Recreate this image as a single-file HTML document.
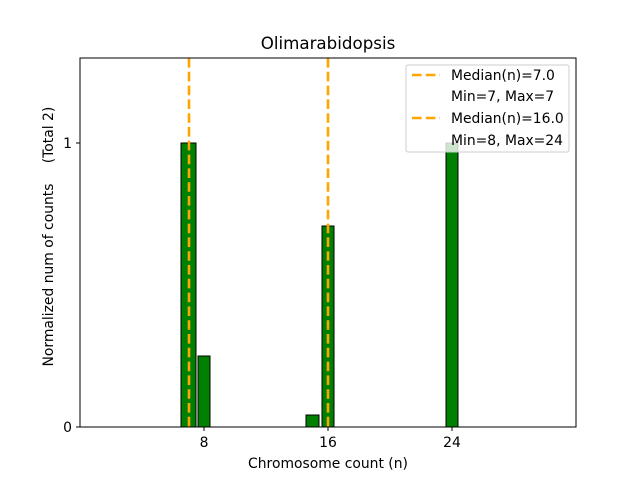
<!DOCTYPE html>
<html><head><style>body{margin:0;background:#fff}</style></head><body>
<svg width="640" height="480" xmlns="http://www.w3.org/2000/svg" font-family="DejaVu Sans, Liberation Sans, sans-serif">
<rect width="640" height="480" fill="#fff"/>
<line x1="80" y1="427" x2="243" y2="427" stroke="#000" stroke-width="1"/>
<g fill="#008000" stroke="#000" stroke-width="1">
<rect x="181" y="143" width="15" height="284"/>
<rect x="198" y="356" width="12" height="71"/>
<rect x="306" y="415" width="13" height="12"/>
<rect x="322" y="226" width="12" height="201"/>
<rect x="446" y="143" width="12" height="284"/>
</g>
<g stroke="#ffa500" stroke-width="2.6" stroke-dasharray="9.6,4.2">
<line x1="189" y1="58" x2="189" y2="427"/>
<line x1="328" y1="58" x2="328" y2="427"/>
</g>
<rect x="80" y="58" width="496" height="369" fill="none" stroke="#000" stroke-width="1"/>
<g stroke="#000"><line x1="80" y1="427" x2="76" y2="427"/><line x1="80" y1="143" x2="76" y2="143"/>
<line x1="204" y1="427" x2="204" y2="431"/><line x1="328" y1="427" x2="328" y2="431"/><line x1="452" y1="427" x2="452" y2="431"/></g>
<g font-size="13.9" fill="#000">
<text x="72" y="432" text-anchor="end">0</text>
<text x="72" y="148" text-anchor="end">1</text>
<text x="204" y="447" text-anchor="middle">8</text>
<text x="328" y="447" text-anchor="middle">16</text>
<text x="452" y="447" text-anchor="middle">24</text>
<text x="328" y="468" text-anchor="middle">Chromosome count (n)</text>
<text transform="translate(53,275) rotate(-90)" text-anchor="middle">Normalized num of counts</text>
<text transform="translate(53,135) rotate(-90)" text-anchor="middle">(Total 2)</text>
<text x="328" y="49" text-anchor="middle" font-size="16.7">Olimarabidopsis</text>
</g>
<rect x="406" y="65" width="163" height="87" rx="2" fill="#fff" fill-opacity="0.8" stroke="#ccc"/>
<g stroke="#ffa500" stroke-width="2.6" stroke-dasharray="9.6,4.2"><line x1="412" y1="75" x2="440" y2="75"/><line x1="412" y1="118" x2="440" y2="118"/></g>
<g font-size="13.9" fill="#000">
<text x="451" y="80">Median(n)=7.0</text>
<text x="451" y="101">Min=7, Max=7</text>
<text x="451" y="123">Median(n)=16.0</text>
<text x="451" y="145">Min=8, Max=24</text>
</g>
</svg>
</body></html>
